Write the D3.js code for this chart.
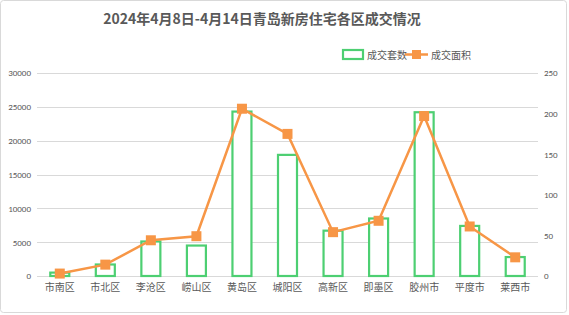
<!DOCTYPE html>
<html>
<head>
<meta charset="utf-8">
<script src="https://cdn.jsdelivr.net/npm/d3@7"></script>
<style>
  body { margin: 0; background: #fff; }
  #chart { width: 569px; height: 315px; }
  text { font-family: "Noto Sans CJK SC", "Microsoft YaHei", sans-serif; }
</style>
</head>
<body>
<div id="chart"></div>
<script>
// data
const districts = ["市南区", "市北区", "李沧区", "崂山区", "黄岛区", "城阳区", "高新区", "即墨区", "胶州市", "平度市", "莱西市"];
const dealCount = [500, 1700, 5100, 4500, 24300, 17900, 6700, 8500, 24200, 7400, 2800];   // 成交套数
const dealArea = [3, 14, 44, 49, 206, 175, 54, 68, 197, 61, 23];                          // 成交面积
const leftTicks = [0, 5000, 10000, 15000, 20000, 25000, 30000];
const rightTicks = [0, 50, 100, 150, 200, 250];

const W = 569, H = 315;
const margin = { top: 73, right: 31, bottom: 39, left: 37 };
const width = W - margin.left - margin.right,
    height = H - margin.top - margin.bottom;

const svg = d3.select("#chart").append("svg")
    .attr("width", W)
    .attr("height", H);

// outer frame
svg.append("rect")
    .attr("x", 0.5).attr("y", 0.5)
    .attr("width", W - 3).attr("height", H - 3)
    .attr("rx", 3)
    .attr("fill", "#fff")
    .attr("stroke", "#d9d9d9");

// title
svg.append("text")
    .attr("x", 262)
    .attr("y", 24)
    .attr("text-anchor", "middle")
    .style("font-size", "14px")
    .style("font-weight", "bold")
    .style("fill", "#595959")
    .text("2024年4月8日-4月14日青岛新房住宅各区成交情况");

const g = svg.append("g")
    .attr("transform", `translate(${margin.left},${margin.top})`);

const x = d3.scaleBand()
    .domain(districts)
    .range([0, width]);

const yL = d3.scaleLinear().domain([0, 30000]).range([height, 0]);
const yR = d3.scaleLinear().domain([0, 250]).range([height, 0]);

// gridlines
g.selectAll(".grid")
    .data(leftTicks)
    .join("line")
    .attr("x1", 0).attr("x2", width)
    .attr("y1", d => Math.round(yL(d)) + 0.5)
    .attr("y2", d => Math.round(yL(d)) + 0.5)
    .attr("stroke", "#d9d9d9");

const numFont = "Calibri, 'Liberation Sans', sans-serif";

// left axis
const axL = g.append("g")
    .call(d3.axisLeft(yL).tickValues(leftTicks).tickFormat(d3.format("d")).tickSize(0).tickPadding(6));
axL.select(".domain").remove();
axL.selectAll("text").style("font-size", "9px").style("fill", "#595959")
    .style("font-family", numFont);

// right axis
const axR = g.append("g")
    .attr("transform", `translate(${width},0)`)
    .call(d3.axisRight(yR).tickValues(rightTicks).tickFormat(d3.format("d")).tickSize(0).tickPadding(6));
axR.select(".domain").remove();
axR.selectAll("text").style("font-size", "9px").style("fill", "#595959")
    .style("font-family", numFont);

// category axis
const axB = g.append("g")
    .attr("transform", `translate(0,${height})`)
    .call(d3.axisBottom(x).tickSize(0).tickPadding(8));
axB.select(".domain").remove();
axB.selectAll("text").style("font-size", "10px").style("fill", "#595959");

// bars (hollow)
const barW = 19;
g.selectAll(".bar")
    .data(districts)
    .join("rect")
    .attr("x", d => x(d) + x.bandwidth() / 2 - barW / 2)
    .attr("y", (d, i) => yL(dealCount[i]))
    .attr("width", barW)
    .attr("height", (d, i) => height - yL(dealCount[i]))
    .attr("fill", "#fff")
    .attr("stroke", "#4dcf72")
    .attr("stroke-width", 2.2);

// line
const line = d3.line()
    .x((d, i) => x(districts[i]) + x.bandwidth() / 2)
    .y(d => yR(d));

g.append("path")
    .datum(dealArea)
    .attr("d", line)
    .attr("fill", "none")
    .attr("stroke", "#f79646")
    .attr("stroke-width", 2.5);

const mk = 10;
g.selectAll(".mark")
    .data(dealArea)
    .join("rect")
    .attr("x", (d, i) => x(districts[i]) + x.bandwidth() / 2 - mk / 2)
    .attr("y", d => yR(d) - mk / 2)
    .attr("width", mk)
    .attr("height", mk)
    .attr("fill", "#f79646");

// legend
const legend = svg.append("g").attr("transform", "translate(343,49)");
legend.append("rect")
    .attr("x", 0).attr("y", 1)
    .attr("width", 20).attr("height", 9)
    .attr("fill", "#fff")
    .attr("stroke", "#4dcf72")
    .attr("stroke-width", 2.2);
legend.append("text")
    .attr("x", 24).attr("y", 9.5)
    .style("font-size", "10px").style("fill", "#595959")
    .text("成交套数");
legend.append("line")
    .attr("x1", 62).attr("x2", 85)
    .attr("y1", 5.5).attr("y2", 5.5)
    .attr("stroke", "#f79646").attr("stroke-width", 2.5);
legend.append("rect")
    .attr("x", 69).attr("y", 1)
    .attr("width", 9).attr("height", 9)
    .attr("fill", "#f79646");
legend.append("text")
    .attr("x", 88).attr("y", 9.5)
    .style("font-size", "10px").style("fill", "#595959")
    .text("成交面积");
</script>
</body>
</html>
